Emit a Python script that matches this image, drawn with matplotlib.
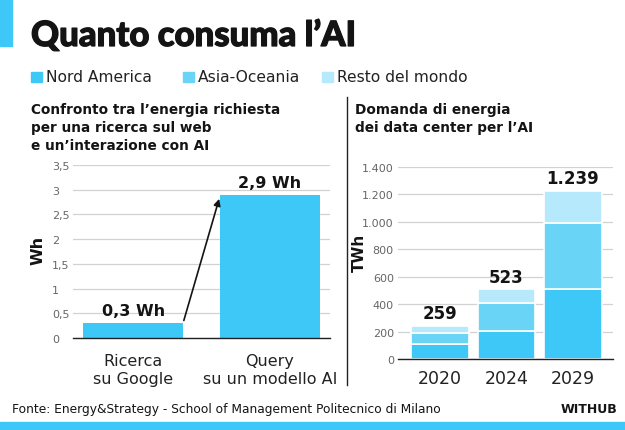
import matplotlib.pyplot as plt
import matplotlib.patheffects as pe
import numpy as np

# --- data ---
search_labels = ["Ricerca\nsu Google", "Query\nsu un modello AI"]
search_wh = [0.3, 2.9]
search_text = ["0,3 Wh", "2,9 Wh"]

years = ["2020", "2024", "2029"]
nord_america = [109, 207, 510]
asia_oceania = [81, 199, 480]
resto_mondo = [53, 104, 238]
totals_text = ["259", "523", "1.239"]

left_ticks = [0, 0.5, 1, 1.5, 2, 2.5, 3, 3.5]
left_ticklabels = ["0", "0,5", "1", "1,5", "2", "2,5", "3", "3,5"]
right_ticks = [0, 200, 400, 600, 800, 1000, 1200, 1400]
right_ticklabels = ["0", "200", "400", "600", "800", "1.000", "1.200", "1.400"]

C_NA = "#3ec8f8"
C_AO = "#6ad4f7"
C_RM = "#b6e9fb"
GRID = "#d2d2d2"
TICK = "#666666"
INK = "#141414"

plt.rcParams["font.family"] = ["DejaVu Sans"]

W, H = 625, 431
fig = plt.figure(figsize=(W / 100, H / 100), dpi=100)


def fx(px):
    return px / W


def fy(py):
    return 1 - py / H


# --- header ---
fig.patches.append(plt.Rectangle((0, fy(47)), fx(12), 47 / H, transform=fig.transFigure,
                                 color=C_NA, zorder=0))
fig.text(fx(31), fy(47), "Quanto consuma l’AI", fontsize=25, fontweight="black",
         family=["Lato", "DejaVu Sans"], color=INK, va="baseline",
         path_effects=[pe.withStroke(linewidth=0.9, foreground=INK)])

legend_items = [("Nord America", C_NA, 31), ("Asia-Oceania", C_AO, 183), ("Resto del mondo", C_RM, 322)]
for name, col, x0 in legend_items:
    fig.patches.append(plt.Rectangle((fx(x0), fy(83)), fx(11), 10 / H, transform=fig.transFigure,
                                     color=col))
    fig.text(fx(x0 + 15), fy(78), name, fontsize=11.2, color="#222222", va="center")

# --- subtitles ---
fig.text(fx(31), fy(103), "Confronto tra l’energia richiesta\nper una ricerca sul web\ne un’interazione con AI",
         fontsize=9.8, fontweight="bold", color=INK, va="top", linespacing=1.38)
fig.text(fx(355), fy(103), "Domanda di energia\ndei data center per l’AI",
         fontsize=9.8, fontweight="bold", color=INK, va="top", linespacing=1.38)

# separator line
fig.add_artist(plt.Line2D([fx(347), fx(347)], [fy(98), fy(386)], color="#222222", lw=1))

# --- left chart ---
axl = fig.add_axes([fx(73), fy(339), fx(330 - 73), (339 - 166) / H])
x = np.arange(len(search_wh))
axl.bar(x, search_wh, width=0.73, color=C_NA, zorder=2)
axl.set_xlim(-0.44, 1.44)
axl.set_ylim(0, 3.5)
axl.set_yticks(left_ticks, left_ticklabels)
axl.set_xticks(x, search_labels)
for i, v in enumerate(search_wh):
    axl.text(x[i], v + 0.1, search_text[i], ha="center", va="bottom", fontsize=11.5,
             fontweight="bold", color=INK)
axl.annotate("", xy=(0.635, 2.87), xytext=(0.365, 0.3),
             arrowprops=dict(arrowstyle="-|>", color=INK, lw=1.2, mutation_scale=10))

# --- right chart ---
axr = fig.add_axes([fx(398), fy(360), fx(613 - 398), (360 - 168) / H])
xr = np.arange(len(years))
axr.bar(xr, nord_america, width=0.87, color=C_NA, edgecolor="white", linewidth=1.2, zorder=2)
axr.bar(xr, asia_oceania, bottom=nord_america, width=0.87, color=C_AO, edgecolor="white",
        linewidth=1.2, zorder=2)
b2 = np.array(nord_america) + np.array(asia_oceania)
axr.bar(xr, resto_mondo, bottom=b2, width=0.87, color=C_RM, edgecolor="white", linewidth=1.2, zorder=2)
tops = b2 + np.array(resto_mondo)
for i, t in enumerate(tops):
    axr.text(xr[i], t + 25, totals_text[i], ha="center", va="bottom", fontsize=12,
             fontweight="bold", color=INK)
axr.set_xlim(-0.63, 2.6)
axr.set_ylim(0, 1400)
axr.set_yticks(right_ticks, right_ticklabels)
axr.set_xticks(xr, years)

for ax in (axl, axr):
    for s in ("top", "right", "left"):
        ax.spines[s].set_visible(False)
    ax.spines["bottom"].set_color("#222222")
    ax.spines["bottom"].set_linewidth(1)
    ax.grid(axis="y", color=GRID, lw=0.9, zorder=0)
    ax.set_axisbelow(True)
    ax.tick_params(axis="y", length=0, labelsize=8, labelcolor=TICK)
    ax.tick_params(axis="x", length=0, labelsize=11.5, labelcolor="#222222")

# left y tick labels are left aligned at x ~ 52 px
axl.tick_params(axis="y", pad=15)
for lab in axl.get_yticklabels():
    lab.set_horizontalalignment("left")
axl.tick_params(axis="x", pad=11)
axr.tick_params(axis="y", pad=3)
axr.tick_params(axis="x", pad=7, labelsize=12.5)

fig.text(fx(38), fy(250), "Wh", rotation=90, fontsize=11.5, fontweight="bold",
         ha="center", va="center", color=INK)
fig.text(fx(359), fy(253), "TWh", rotation=90, fontsize=11, fontweight="bold",
         ha="center", va="center", color=INK)

# --- footer ---
fig.text(fx(12), fy(410), "Fonte: Energy&Strategy - School of Management Politecnico di Milano",
         fontsize=8.8, color=INK, va="center")
fig.text(fx(617), fy(410), "WITHUB", fontsize=9, fontweight="bold", color=INK,
         va="center", ha="right")
fig.patches.append(plt.Rectangle((0, 0), 1, 8 / H, transform=fig.transFigure, color=C_NA))

fig.savefig("out.png", dpi=100)
